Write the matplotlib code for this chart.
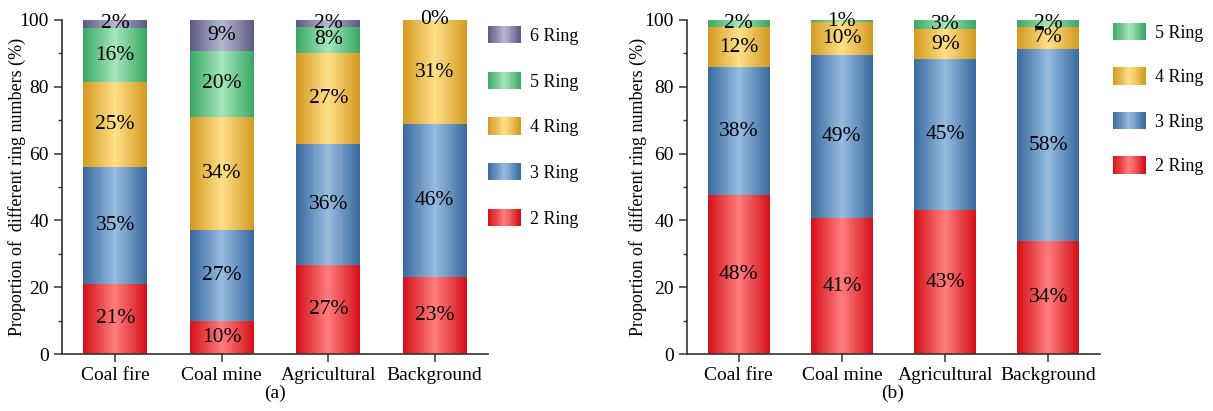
import numpy as np
import matplotlib
matplotlib.use('Agg')
import matplotlib.pyplot as plt
from matplotlib.colors import LinearSegmentedColormap
from matplotlib.legend_handler import HandlerBase
from matplotlib.patches import Rectangle
from matplotlib.ticker import MultipleLocator

plt.rcParams['font.family'] = ['Liberation Serif', 'DejaVu Serif']

sites = ['Coal fire', 'Coal mine', 'Agricultural', 'Background']

# (a) ring-number composition, %  (nan = no 6-ring data for background)
ring2_a = [21.0, 10.0, 26.7, 23.0]
ring3_a = [34.9, 27.0, 36.3, 45.8]
ring4_a = [25.4, 34.0, 27.1, 31.2]
ring5_a = [16.4, 19.8, 7.9, 0.0]
ring6_a = [2.3, 9.2, 2.0, np.nan]

# (b) ring-number composition, %
ring2_b = [47.7, 40.6, 43.0, 33.7]
ring3_b = [38.1, 49.0, 45.3, 57.7]
ring4_b = [12.1, 9.8, 8.9, 6.6]
ring5_b = [2.1, 0.6, 2.8, 2.0]

# edge colour -> centre colour for the shaded bars
shades = {
    '2 Ring': ('#d41018', '#ff7e7e'),
    '3 Ring': ('#386a9e', '#98bce0'),
    '4 Ring': ('#d49a22', '#ffe088'),
    '5 Ring': ('#3aa864', '#a6e6bc'),
    '6 Ring': ('#5a5a84', '#b8b8d4'),
}


def make_cmap(name):
    edge, mid = shades[name]
    return LinearSegmentedColormap.from_list(name, [edge, mid, edge])


class GradientHandler(HandlerBase):
    def __init__(self, cmap):
        super().__init__()
        self.cmap = cmap

    def create_artists(self, legend, orig_handle, xdescent, ydescent,
                       width, height, fontsize, trans):
        n = 30
        w = width / n
        arts = []
        for i in range(n):
            r = Rectangle((-xdescent + i * w, -ydescent), w * 1.05, height,
                          facecolor=self.cmap((i + 0.5) / n), edgecolor='none',
                          transform=trans)
            arts.append(r)
        return arts


def stacked_panel(ax, series, ylabel_x):
    x = np.arange(len(sites))
    width = 0.6
    grad = np.linspace(0, 1, 200)[np.newaxis, :]
    bottom = np.zeros(len(sites))
    for name, vals in series:
        vals = np.array(vals, dtype=float)
        cmap = make_cmap(name)
        bars = ax.bar(x, np.nan_to_num(vals), width, bottom=bottom,
                      color='none', edgecolor='none')
        for rect, v, b in zip(bars, vals, bottom):
            if np.isnan(v):
                continue
            x0 = rect.get_x()
            ax.imshow(grad, cmap=cmap, aspect='auto', zorder=2,
                      extent=(x0, x0 + rect.get_width(), b, b + v))
            ax.text(x0 + rect.get_width() / 2, b + v / 2, f'{v:.0f}%',
                    ha='center', va='center', fontsize=15.5, zorder=3)
        bottom = bottom + np.nan_to_num(vals)

    ax.set_xlim(-0.5, 3.5)
    ax.set_ylim(0, 100)
    ax.set_xticks(x)
    ax.set_xticklabels(sites)
    ax.yaxis.set_major_locator(MultipleLocator(20))
    ax.yaxis.set_minor_locator(MultipleLocator(10))
    for s in ['top', 'right']:
        ax.spines[s].set_visible(False)
    for s in ['left', 'bottom']:
        ax.spines[s].set_linewidth(1.2)
        ax.spines[s].set_color('#333333')
    ax.tick_params(which='major', direction='out', length=6, width=1.1,
                   labelsize=14, color='#333333')
    ax.tick_params(which='minor', direction='out', length=3, width=1.0,
                   color='#333333')
    ax.set_ylabel('Proportion of  different ring numbers (%)', fontsize=13)
    ax.yaxis.set_label_coords(ylabel_x, 0.5)

    # legend lists the top ring first
    names = [n for n, _ in series][::-1]
    handles = [Rectangle((0, 0), 1, 1) for _ in names]
    hmap = {h: GradientHandler(make_cmap(n)) for h, n in zip(handles, names)}
    return handles, names, hmap


fig = plt.figure(figsize=(12.13, 4.11), dpi=100)
ax1 = fig.add_axes([62 / 1213, 57 / 411, 426 / 1213, 334 / 411])
ax2 = fig.add_axes([687 / 1213, 57 / 411, 413 / 1213, 334 / 411])

h1, n1, m1 = stacked_panel(ax1, [('2 Ring', ring2_a), ('3 Ring', ring3_a),
                                 ('4 Ring', ring4_a), ('5 Ring', ring5_a),
                                 ('6 Ring', ring6_a)], -0.085)
h2, n2, m2 = stacked_panel(ax2, [('2 Ring', ring2_b), ('3 Ring', ring3_b),
                                 ('4 Ring', ring4_b), ('5 Ring', ring5_b)], -0.097)

leg_kw = dict(loc='upper left', frameon=False, fontsize=13, borderpad=0,
              borderaxespad=0, handlelength=1.8, handleheight=1.1,
              handletextpad=0.5)
fig.legend(h1, n1, handler_map=m1, bbox_to_anchor=(488 / 1213, 1 - 26 / 411),
           labelspacing=1.49, **leg_kw)
fig.legend(h2, n2, handler_map=m2, bbox_to_anchor=(1113 / 1213, 1 - 23 / 411),
           labelspacing=1.42, **leg_kw)

fig.text(275 / 1213, 1 - 393 / 411, '(a)', ha='center', va='center', fontsize=14)
fig.text(893 / 1213, 1 - 393 / 411, '(b)', ha='center', va='center', fontsize=14)

fig.savefig('out.png', dpi=100)
